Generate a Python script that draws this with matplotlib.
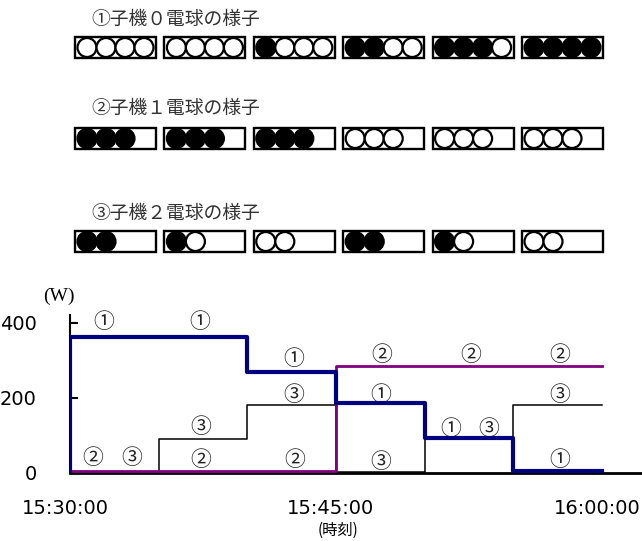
import matplotlib
matplotlib.use('Agg')
import matplotlib.pyplot as plt
from matplotlib.patches import Rectangle, Circle
from matplotlib.transforms import ScaledTranslation

plt.rcParams['font.family'] = ['DejaVu Sans', 'Noto Sans CJK JP']
JP = ['Noto Sans CJK JP', 'DejaVu Sans']

# measured power of each child unit (W), one value per 5 minute period
minutes = [0, 5, 10, 15, 20, 25, 30]
child0_w = [362, 362, 269, 185, 92, 6]
child1_w = [6, 6, 6, 285, 285, 285]
child2_w = [1, 90, 181, 2, 90, 181]

# lamp panels above the chart: number of lamps lit in each period
lamp_titles = ['①子機０電球の様子', '②子機１電球の様子', '③子機２電球の様子']
lamp_total = [4, 3, 2]
lamp_lit = [[4, 4, 3, 2, 1, 0],
            [0, 0, 0, 3, 3, 3],
            [0, 1, 2, 0, 1, 2]]

xtick_pos = [0, 15, 30]
xtick_labels = ['15:30:00', '15:45:00', '16:00:00']
ytick_pos = [0, 200, 400]

# circled marks written on the chart: (minute, W, mark)
marks = [(1.9, 402, '①'), (7.3, 402, '①'), (12.6, 303, '①'),
         (12.6, 208, '③'), (17.6, 314, '②'), (22.6, 314, '②'),
         (27.6, 314, '②'), (17.5, 208, '①'), (27.6, 208, '③'),
         (1.3, 40, '②'), (3.5, 40, '③'), (7.4, 122, '③'),
         (7.4, 35, '②'), (12.7, 35, '②'), (17.5, 29, '③'),
         (21.5, 117, '①'), (23.6, 117, '③'), (27.6, 35, '①')]

fig = plt.figure(figsize=(6.42, 5.41), dpi=100)

# --- lamp panels (drawn in pixel units of the figure) ---
top = fig.add_axes([0, 0, 1, 1], zorder=0)
top.set_xlim(0, 642)
top.set_ylim(541, 0)
top.axis('off')

title_y = [19, 108, 213]
box_top = [37, 128, 231]
box_w, box_h = 81, 21
box_step = 89.4
r = 9.5
for row in range(3):
    top.text(91, title_y[row], lamp_titles[row], family=JP, fontsize=13.5,
             color='#333333', va='center', ha='left')
    for i, lit in enumerate(lamp_lit[row]):
        x0 = 75 + i * box_step
        top.add_patch(Rectangle((x0, box_top[row]), box_w, box_h,
                                fill=False, lw=1.7, ec='black'))
        n = lamp_total[row]
        for j in range(n):
            off = j < n - lit
            top.add_patch(Circle((x0 + 2.5 + r + j * 2 * r, box_top[row] + box_h / 2), r,
                                 fc='black' if off else 'white', ec='black', lw=1.6))

# --- power chart ---
ax = fig.add_axes([70 / 642, (541 - 473) / 541, 572 / 642, 158 / 541], zorder=1)
ax.patch.set_alpha(0)

ax.step(minutes, child2_w + [child2_w[-1]], where='post', color='black', lw=1.1, zorder=3)
ax.step(minutes, child1_w + [child1_w[-1]], where='post', color='#800080', lw=2.0, zorder=4)
ax.step([0] + minutes, [0] + child0_w + [child0_w[-1]], where='post',
        color='#000080', lw=3.0, zorder=5)

for t, w, m in marks:
    ax.text(t, w, m, family=JP, fontsize=15, ha='center', va='center', color='#222222')

ax.set_xlim(0, 32.26)
ax.set_ylim(0, 420)
ax.spines['top'].set_visible(False)
ax.spines['right'].set_visible(False)
ax.spines['left'].set_linewidth(1.5)
ax.spines['bottom'].set_linewidth(2)

ax.set_yticks(ytick_pos)
ax.tick_params(axis='y', direction='in', length=6, width=1.5, pad=24, labelsize=14)
ax.set_xticks(xtick_pos)
ax.set_xticklabels(xtick_labels)
ax.tick_params(axis='x', length=0, pad=19, labelsize=14)
for lab in ax.get_xticklabels():
    lab.set_transform(lab.get_transform() + ScaledTranslation(-0.05, 0, fig.dpi_scale_trans))

fig.text(59 / 642, 1 - 296 / 541, '(W)', family='Liberation Serif', fontsize=14,
         ha='center', va='center')
fig.text(338 / 642, 1 - 530 / 541, '(時刻)', family=JP, fontsize=11,
         ha='center', va='center')

fig.savefig('out.png', dpi=100)
